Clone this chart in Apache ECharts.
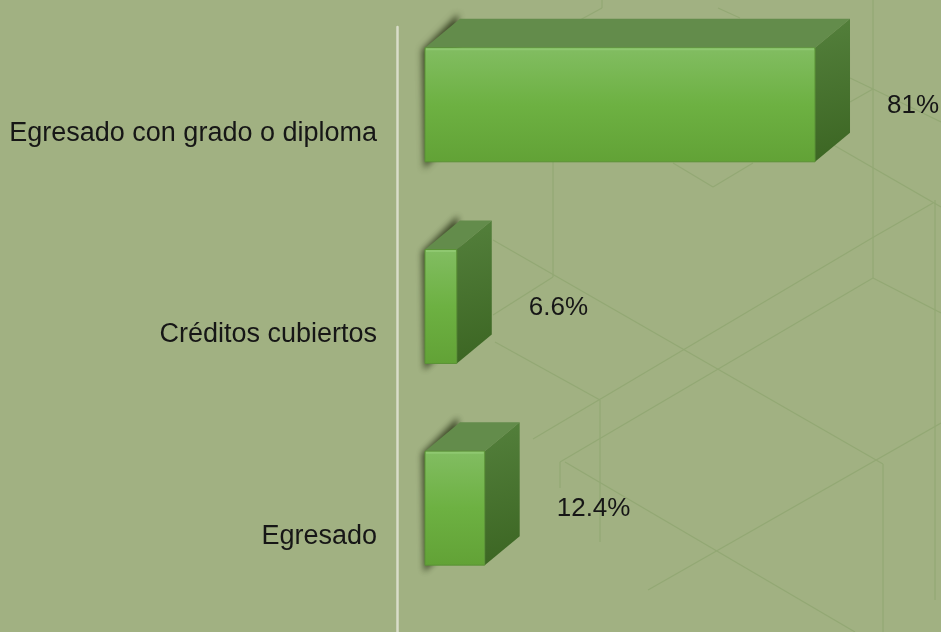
<!DOCTYPE html>
<html>
<head>
<meta charset="utf-8">
<script src="https://cdn.jsdelivr.net/npm/echarts@6/dist/echarts.min.js"></script>
<style>
  html, body { margin: 0; padding: 0; background: #a1b182; }
  #chart { width: 941px; height: 632px; }
</style>
</head>
<body>
<div id="chart"></div>
<script>
const categories = ['Egresado con grado o diploma', 'Créditos cubiertos', 'Egresado']
const values = [81, 6.6, 12.4]
const valueLabels = ['81%', '6.6%', '12.4%']

// decorative hex lines of the slide background
const bgLines = [
  [[553, 160], [553, 277]], [[553, 277], [493, 315]], [[493, 240], [883, 464]],
  [[883, 464], [883, 632]], [[495, 342], [600, 400]], [[600, 400], [600, 542]],
  [[533, 439], [872, 238]], [[872, 238], [933, 203]], [[873, 0], [873, 278]],
  [[873, 278], [560, 462]], [[873, 278], [941, 313]], [[560, 462], [560, 488]],
  [[565, 462], [855, 632]], [[648, 590], [941, 423]], [[935, 200], [935, 600]],
  [[830, 143], [941, 207]], [[850, 78], [873, 89]], [[873, 89], [850, 102]],
  [[873, 89], [941, 122]], [[602, 0], [602, 8]], [[602, 8], [580, 20]],
  [[718, 8], [740, 18]], [[673, 163], [713, 187]], [[713, 187], [753, 163]]
]

const DX = 35
const DY = -29
const FAR = 3000 // shape drawn off-canvas, only its blurred shadow shows

function renderBox(params, api) {
  const i = api.value(0)
  const base = api.coord([0, i])
  const end = api.coord([api.value(1), i])
  const h = api.size([0, 1])[1] * 0.565
  const x0 = base[0] + 28
  const x1 = end[0] + 28
  const cy = base[1] - 23
  const y0 = cy - h / 2
  const y1 = cy + h / 2
  return {
    type: 'group',
    children: [
      {
        type: 'polygon',
        shape: {
          points: [
            [x0 - 3 + FAR, y0 + 2],
            [x0 + DX - 2 + FAR, y0 + DY - 5],
            [x0 + DX + FAR, y1 + DY],
            [x0 - 1 + FAR, y1 + 7]
          ]
        },
        style: {
          fill: '#2d3719',
          shadowBlur: 6,
          shadowColor: 'rgba(45,55,25,0.85)',
          shadowOffsetX: -FAR
        }
      },
      {
        type: 'polygon',
        shape: { points: [[x0, y0], [x0 + DX, y0 + DY], [x1 + DX, y0 + DY], [x1, y0]] },
        style: { fill: '#638c4b' }
      },
      {
        type: 'polygon',
        shape: { points: [[x1, y0], [x1 + DX, y0 + DY], [x1 + DX, y1 + DY], [x1, y1]] },
        style: {
          fill: new echarts.graphic.LinearGradient(0, 0, 1, 1, [
            { offset: 0, color: '#54803c' },
            { offset: 1, color: '#3b6522' }
          ])
        }
      },
      {
        type: 'rect',
        shape: { x: x0, y: y0, width: x1 - x0, height: h },
        style: {
          fill: new echarts.graphic.LinearGradient(0, 0, 0, 1, [
            { offset: 0, color: '#82bd62' },
            { offset: 0.5, color: '#6db142' },
            { offset: 1, color: '#62a236' }
          ]),
          stroke: '#5a9236',
          lineWidth: 1
        }
      },
      {
        type: 'line',
        shape: { x1: x0 + 1, y1: y0 + 1.5, x2: x1 - 1, y2: y0 + 1.5 },
        style: { stroke: '#8fc870', lineWidth: 2 }
      },
      {
        type: 'text',
        style: {
          text: valueLabels[i],
          x: x1 + DX + 37,
          y: cy + 1,
          align: 'left',
          verticalAlign: 'middle',
          font: '26px "Liberation Sans", Arial, sans-serif',
          fill: '#161616'
        }
      }
    ]
  }
}

const chart = echarts.init(document.getElementById('chart'))
chart.setOption({
  backgroundColor: '#a1b182',
  animation: false,
  graphic: {
    elements: bgLines.map((p) => ({
      type: 'line',
      silent: true,
      z: 0,
      shape: { x1: p[0][0], y1: p[0][1], x2: p[1][0], y2: p[1][1] },
      style: { stroke: '#93a874', lineWidth: 1.2 }
    }))
  },
  grid: { left: 397, top: 27, width: 481.5, height: 608 },
  xAxis: {
    type: 'value',
    min: 0,
    max: 100,
    show: false
  },
  yAxis: {
    type: 'category',
    data: categories,
    inverse: true,
    axisLine: { show: true, lineStyle: { color: '#d9ddc9', width: 2.5 } },
    axisTick: { show: false },
    splitLine: { show: false },
    axisLabel: {
      margin: 20,
      formatter: '{a|{value}}',
      rich: {
        a: {
          fontSize: 27,
          padding: [11, 0, 0, 0],
          fontFamily: '"Liberation Sans", Arial, sans-serif',
          color: '#161616'
        }
      }
    }
  },
  series: [
    {
      type: 'custom',
      z: 5,
      renderItem: renderBox,
      encode: { x: 1, y: 0 },
      data: categories.map((c, i) => [i, values[i]])
    }
  ]
})
</script>
</body>
</html>
